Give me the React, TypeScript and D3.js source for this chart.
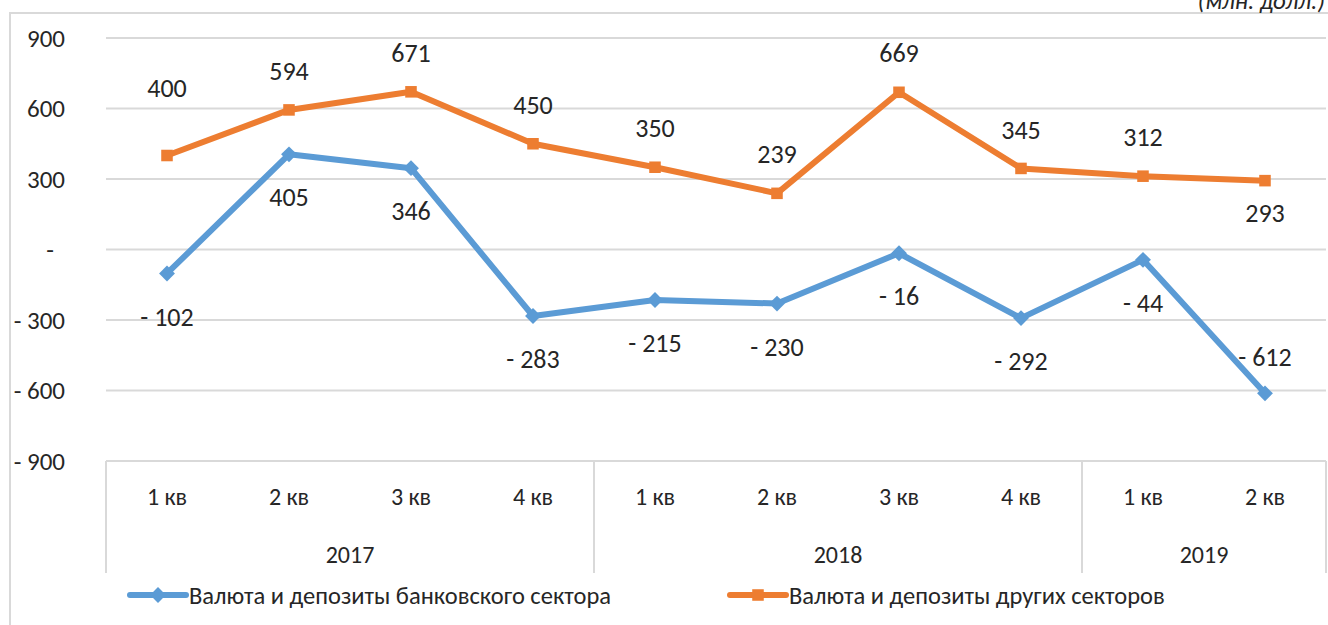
import React, { useRef, useEffect } from "react";
import * as d3 from "d3";

// quarters and years
const quarters = ["1 кв", "2 кв", "3 кв", "4 кв", "1 кв", "2 кв", "3 кв", "4 кв", "1 кв", "2 кв"];
const years = ["2017", "2018", "2019"];
const yearSpans = [4, 4, 2];

const seriesNames = [
  "Валюта и депозиты банковского сектора",
  "Валюта и депозиты других секторов",
];
const bankValues = [-102, 405, 346, -283, -215, -230, -16, -292, -44, -612];
const otherValues = [400, 594, 671, 450, 350, 239, 669, 345, 312, 293];

// label placement: 1 = above the point, -1 = below
const bankLabelSide = [-1, -1, -1, -1, -1, -1, -1, -1, -1, 1];
const otherLabelSide = [1, 1, 1, 1, 1, 1, 1, 1, 1, -1];

const yTicks = [-900, -600, -300, 0, 300, 600, 900];

const W = 1328;
const H = 625;
const FONT = "Carlito, 'Liberation Sans Narrow', 'Noto Sans', sans-serif";
const BLUE = "#5b9bd5";
const ORANGE = "#ed7d31";
const GRID = "#d9d9d9";
const INK = "#262626";

function fmt(v: number) {
  if (v === 0) return "-";
  return v < 0 ? "- " + Math.abs(v) : String(v);
}

export default function App() {
  const svgRef = useRef<SVGSVGElement>(null);

  useEffect(() => {
    const svg = d3.select(svgRef.current);
    svg.selectAll("*").remove();

    const left = 106;
    const right = 1326;
    const top = 38;
    const bottom = 461;

    const x = d3
      .scaleBand<number>()
      .domain(d3.range(quarters.length))
      .range([left, right])
      .padding(0);
    const y = d3.scaleLinear().domain([-900, 900]).range([bottom, top]);
    const cx = (i: number) => (x(i) as number) + x.bandwidth() / 2;

    // outer frame (cropped)
    svg
      .append("path")
      .attr("d", `M10,${H} L10,13 L${W},13`)
      .attr("fill", "none")
      .attr("stroke", GRID)
      .attr("stroke-width", 2);

    // unit title (cut off at top)
    svg
      .append("text")
      .attr("x", 1325)
      .attr("y", 9)
      .attr("text-anchor", "end")
      .attr("font-family", FONT)
      .attr("font-style", "italic")
      .attr("font-size", 25)
      .attr("fill", INK)
      .text("(млн. долл.)");

    // gridlines
    svg
      .append("g")
      .selectAll("line")
      .data(yTicks)
      .join("line")
      .attr("x1", left)
      .attr("x2", right)
      .attr("y1", (d) => y(d))
      .attr("y2", (d) => y(d))
      .attr("stroke", GRID)
      .attr("stroke-width", 2);

    // y tick labels
    svg
      .append("g")
      .selectAll("text")
      .data(yTicks)
      .join("text")
      .attr("x", (d) => (d === 0 ? 54 : 65))
      .attr("y", (d) => y(d))
      .attr("dy", "0.35em")
      .attr("text-anchor", "end")
      .attr("font-family", FONT)
      .attr("font-size", 25)
      .attr("fill", INK)
      .text((d) => fmt(d));

    // category axis separators
    let acc = 0;
    const bounds = [0];
    yearSpans.forEach((s) => {
      acc += s;
      bounds.push(acc);
    });
    svg
      .append("g")
      .selectAll("line")
      .data(bounds)
      .join("line")
      .attr("x1", (d) => left + d * x.bandwidth())
      .attr("x2", (d) => left + d * x.bandwidth())
      .attr("y1", bottom)
      .attr("y2", 573)
      .attr("stroke", GRID)
      .attr("stroke-width", 2);

    svg
      .append("g")
      .selectAll("text")
      .data(quarters)
      .join("text")
      .attr("x", (_, i) => cx(i))
      .attr("y", 497)
      .attr("dy", "0.35em")
      .attr("text-anchor", "middle")
      .attr("font-family", FONT)
      .attr("font-size", 24)
      .attr("fill", INK)
      .text((d) => d);

    svg
      .append("g")
      .selectAll("text")
      .data(years)
      .join("text")
      .attr("x", (_, i) => left + ((bounds[i] + bounds[i + 1]) / 2) * x.bandwidth())
      .attr("y", 555)
      .attr("dy", "0.35em")
      .attr("text-anchor", "middle")
      .attr("font-family", FONT)
      .attr("font-size", 24)
      .attr("fill", INK)
      .text((d) => d);

    const line = d3
      .line<number>()
      .x((_, i) => cx(i))
      .y((d) => y(d));

    const diamond = d3.symbol().type(d3.symbolDiamond2).size(160);
    const square = d3.symbol().type(d3.symbolSquare2).size(170);

    const series = [
      { values: otherValues, color: ORANGE, sym: square },
      { values: bankValues, color: BLUE, sym: diamond },
    ];

    series.forEach((s) => {
      svg
        .append("path")
        .datum(s.values)
        .attr("d", line)
        .attr("fill", "none")
        .attr("stroke", s.color)
        .attr("stroke-width", 6)
        .attr("stroke-linejoin", "round");
      svg
        .append("g")
        .selectAll("path")
        .data(s.values)
        .join("path")
        .attr("transform", (d, i) => `translate(${cx(i)},${y(d)})`)
        .attr("d", s.sym() as string)
        .attr("fill", s.color);
    });

    // data labels
    const labels = [
      { values: otherValues, sides: otherLabelSide },
      { values: bankValues, sides: bankLabelSide },
    ];
    labels.forEach((s) => {
      svg
        .append("g")
        .selectAll("text")
        .data(s.values)
        .join("text")
        .attr("x", (_, i) => cx(i))
        .attr("y", (d, i) => {
          const side = s.sides[i];
          let off = side > 0 ? -39 : 43;
          if (s.values === otherValues && i === 0) off = -68;
          if (s.values === otherValues && side < 0) off = 32;
          if (s.values === bankValues && side > 0) off = -36;
          return y(d) + off;
        })
        .attr("dy", "0.35em")
        .attr("text-anchor", "middle")
        .attr("font-family", FONT)
        .attr("font-size", 26)
        .attr("fill", INK)
        .text((d) => fmt(d));
    });

    // legend
    const legend = [
      { name: seriesNames[0], color: BLUE, sym: diamond, x: 130 },
      { name: seriesNames[1], color: ORANGE, sym: square, x: 730 },
    ];
    legend.forEach((l) => {
      const g = svg.append("g").attr("transform", `translate(${l.x},595)`);
      g.append("line")
        .attr("x1", 0)
        .attr("x2", 56)
        .attr("stroke", l.color)
        .attr("stroke-width", 6)
        .attr("stroke-linecap", "round");
      g.append("path")
        .attr("transform", "translate(28,0)")
        .attr("d", l.sym() as string)
        .attr("fill", l.color);
      g.append("text")
        .attr("x", 59)
        .attr("dy", "0.35em")
        .attr("font-family", FONT)
        .attr("font-size", 24.5)
        .attr("fill", INK)
        .text(l.name);
    });
  }, []);

  return (
    <svg
      ref={svgRef}
      width={W}
      height={H}
      style={{ position: "absolute", left: 0, top: 0, background: "#fff" }}
    />
  );
}
